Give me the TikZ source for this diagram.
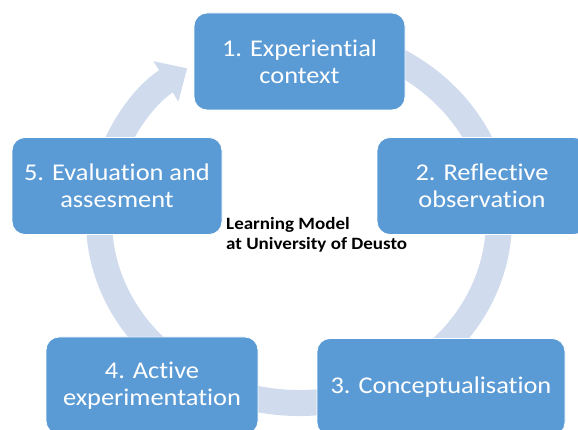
\documentclass[tikz,border=0pt]{standalone}
\usepackage{fontspec}
\setmainfont{Carlito}[FakeStretch=1.1,Ligatures=NoCommon]
\usetikzlibrary{arrows.meta}
\definecolor{stageblue}{RGB}{91,155,213}
\definecolor{ringblue}{RGB}{208,220,238}

\begin{document}
\begin{tikzpicture}[x=1pt,y=1pt,
  stage/.style={draw=white,line width=0.8pt,fill=stageblue,rounded corners=13pt,
    text=white,align=center,minimum height=97pt,inner sep=0pt,
    font=\fontsize{24}{27}\selectfont}]
  \useasboundingbox (0,0) rectangle (578,430);
  % ---------------- ring with arrow ----------------
  \coordinate (hub) at (299,210);
  \draw[ringblue,line width=26pt,-{Triangle[width=46pt,length=25pt]}]
    (hub) ++(80:200 and 183) arc[start angle=80,end angle=-236,x radius=200,y radius=183];
  % ---------------- stages ----------------
  \node[stage,minimum width=211pt] (exp)  at (299.5,368.5) {1. Experiential\\context};
  \node[stage,minimum width=210pt] (refl) at (482,244)     {2. Reflective\\observation};
  \node[stage,minimum width=248pt] (conc) at (441,43)      {3. Conceptualisation};
  \node[stage,minimum width=212pt] (act)  at (152,44.5)    {4. Active\\experimentation};
  \node[stage,minimum width=210pt] (eval) at (117,244)     {5. Evaluation and\\assesment};
  % ---------------- caption ----------------
  \node[anchor=base west,align=left,inner sep=0pt,font=\bfseries\fontsize{17.3}{20}\selectfont]
    (model) at (226,180) {Learning Model\\at University of Deusto};
\end{tikzpicture}
\end{document}
